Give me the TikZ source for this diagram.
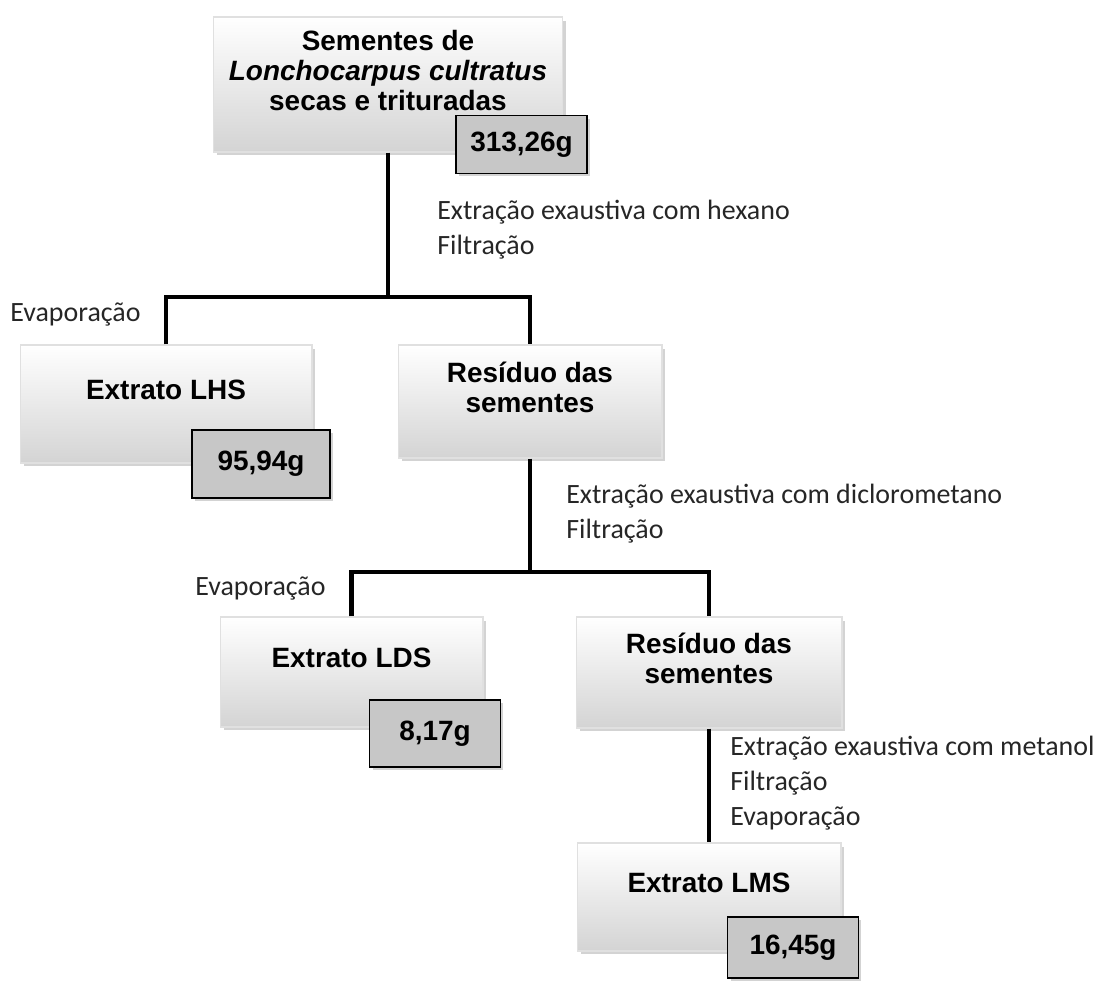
\documentclass[tikz,border=0pt]{standalone}
\usepackage{fontspec}
\setmainfont{Liberation Sans}
\newfontfamily\notefont{Carlito}
\usetikzlibrary{shadows}
\begin{document}
\begin{tikzpicture}[x=0.02cm,y=-0.02cm, line join=miter,
		stage/.style={top color=white, bottom color=black!17, draw=black!12, line width=0.6pt,
			drop shadow={shadow xshift=0.07cm, shadow yshift=-0.07cm, opacity=0.35},
			align=center, inner sep=0pt, text depth=0.56cm,
			font=\fontsize{15.9}{17}\selectfont\bfseries},
		mass/.style={fill=black!22, draw=black, line width=0.9pt,
			drop shadow={shadow xshift=0.06cm, shadow yshift=-0.06cm, opacity=0.35},
			minimum width=2.62cm, minimum height=1.26cm, inner sep=0pt,
			font=\fontsize{15.9}{17}\selectfont\bfseries},
		note/.style={anchor=west, align=left, inner sep=0pt, text=black!85,
			font=\notefont\fontsize{15.9}{19.9}\selectfont},
		link/.style={line width=2.6pt}]
	\useasboundingbox (0,0) rectangle (1103,983);
	% connectors first, boxes on top
	\coordinate (split1) at (388,297);
	\coordinate (split2) at (530,572);
	\node[stage, minimum width=7cm, minimum height=2.7cm] (seeds) at (388,84.5) {Sementes de\\\textit{Lonchocarpus cultratus}\\secas e trituradas};
	\node[stage, minimum width=5.84cm, minimum height=2.36cm] (lhs) at (166,404) {Extrato LHS};
	\node[stage, minimum width=5.28cm, minimum height=2.26cm] (res1) at (530,401.5) {Resíduo das\\sementes};
	\node[stage, minimum width=5.26cm, minimum height=2.2cm] (lds) at (351.5,672) {Extrato LDS};
	\node[stage, minimum width=5.32cm, minimum height=2.22cm] (res2) at (709,672.5) {Resíduo das\\sementes};
	\node[stage, minimum width=5.28cm, minimum height=2.16cm] (lms) at (709,897) {Extrato LMS};
	\draw[link] (seeds.south) -- (split1);
	\draw[link] (lhs.north) |- (split1) -| (res1.north);
	\draw[link] (res1.south) -- (split2);
	\draw[link] (lds.north) |- (split2) -| (res2.north);
	\draw[link] (res2.south) -- (lms.north);
	\node[mass, minimum height=1.16cm] (m1) at (521.5,144.5) {313,26g};
	\node[mass, minimum width=2.76cm, minimum height=1.36cm] (m2) at (261,464) {95,94g};
	\node[mass, minimum height=1.34cm] (m3) at (435,733.5) {8,17g};
	\node[mass, minimum height=1.22cm] (m4) at (793,947.5) {16,45g};
	\node[note] (hexano) at (437,229.5) {Extração exaustiva com hexano\\Filtração};
	\node[note] (evap1) at (10,315) {Evaporação};
	\node[note] (dcm) at (566,513.5) {Extração exaustiva com diclorometano\\Filtração};
	\node[note] (evap2) at (195,589) {Evaporação};
	\node[note] (metanol) at (730,783) {Extração exaustiva com metanol\\Filtração\\Evaporação};
\end{tikzpicture}
\end{document}
